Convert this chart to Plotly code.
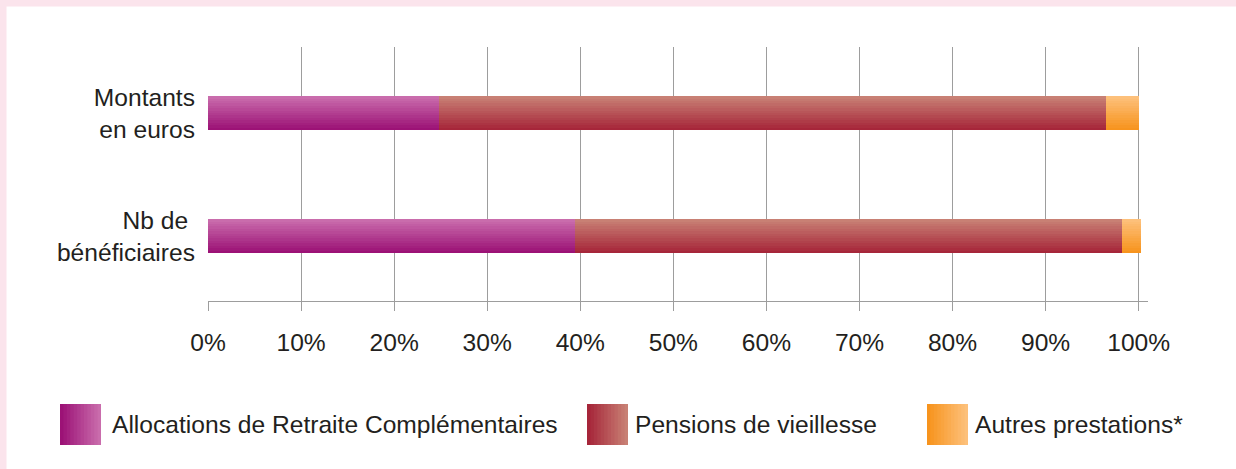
import plotly.graph_objects as go

# ---- data ----
categories = ["Nb de <br>bénéficiaires", "Montants<br>en euros"]
series_names = ["Allocations de Retraite Complémentaires", "Pensions de vieillesse", "Autres prestations*"]
arc_values = [39.4, 24.8]
pensions_values = [58.8, 71.7]
autres_values = [2.0, 3.5]
x_tick_values = [0, 10, 20, 30, 40, 50, 60, 70, 80, 90, 100]
x_tick_labels = ["0%", "10%", "20%", "30%", "40%", "50%", "60%", "70%", "80%", "90%", "100%"]

# ---- styles ----
W, H = 1236, 469
M_L, M_R, M_T, M_B = 208, 88, 47, 168
FONT = "Liberation Sans, Arial, sans-serif"
FS = 24.6
TXT = "#231f20"
GRID = "#9d9d9d"
PINK = "#fbe4ec"
# (dark/bottom, light/top)
grads = [((0x9c, 0x12, 0x76), (0xc9, 0x6c, 0xac)),
         ((0xa6, 0x26, 0x3a), (0xc8, 0x80, 0x74)),
         ((0xf7, 0x94, 0x1e), (0xfd, 0xc0, 0x7a))]
NSTRIP = 14
BAR_T = 0.276  # bar thickness in category units


def mix(c1, c2, t):
    return "rgb(%d,%d,%d)" % tuple(round(a + (b - a) * t) for a, b in zip(c1, c2))


fig = go.Figure()
values = [arc_values, pensions_values, autres_values]
bases = []
acc = [0.0] * len(categories)
for vals in values:
    bases.append(list(acc))
    acc = [a + v for a, v in zip(acc, vals)]

step = BAR_T / NSTRIP
for s, vals in enumerate(values):
    dark, light = grads[s]
    for i in range(NSTRIP):
        fig.add_trace(go.Bar(
            y=categories, x=vals, base=bases[s], orientation="h",
            offset=-BAR_T / 2 + i * step, width=BAR_T - i * step,
            marker=dict(color=mix(dark, light, i / (NSTRIP - 1)), line=dict(width=0)),
            name=series_names[s], showlegend=False, hoverinfo="skip",
        ))


def px_x(p):
    return (p - M_L) / (W - M_L - M_R)


def px_y(p):
    return (H - M_B - p) / (H - M_T - M_B)


shapes = []
# pink frame (left + top)
shapes.append(dict(type="rect", xref="paper", yref="paper", x0=px_x(0), x1=px_x(6.5),
                   y0=px_y(H), y1=px_y(0), fillcolor=PINK, line=dict(width=0), layer="below"))
shapes.append(dict(type="rect", xref="paper", yref="paper", x0=px_x(0), x1=px_x(W),
                   y0=px_y(6.5), y1=px_y(0), fillcolor=PINK, line=dict(width=0), layer="below"))

# legend (custom gradient swatches)
sw_left = [60, 587, 927]
txt_left = [110, 633, 973]
sw_size = 41
sw_top = 404
annotations = []
NS = 12
for s in range(3):
    dark, light = grads[s]
    sw = sw_size / NS
    for k in range(NS):
        x0 = sw_left[s] + k * sw
        shapes.append(dict(type="rect", xref="paper", yref="paper",
                           x0=px_x(x0), x1=px_x(sw_left[s] + sw_size),
                           y0=px_y(sw_top + sw_size), y1=px_y(sw_top),
                           fillcolor=mix(dark, light, k / (NS - 1)), line=dict(width=0)))
    annotations.append(dict(xref="paper", yref="paper", x=px_x(txt_left[s]), y=px_y(sw_top + sw_size / 2),
                            xanchor="left", yanchor="middle", showarrow=False, text=series_names[s],
                            font=dict(family=FONT, size=FS, color=TXT)))

fig.update_layout(
    width=W, height=H, autosize=False,
    margin=dict(l=M_L, r=M_R, t=M_T, b=M_B, pad=0),
    paper_bgcolor="white", plot_bgcolor="white",
    barmode="overlay", bargap=0,
    font=dict(family=FONT, size=FS, color=TXT),
    shapes=shapes, annotations=annotations,
    showlegend=False,
    xaxis=dict(range=[0, 101], tickvals=x_tick_values, ticktext=x_tick_labels,
               showgrid=True, gridcolor=GRID, gridwidth=1.4, zeroline=False,
               showline=True, linecolor=GRID, linewidth=1.4,
               ticks="outside", ticklen=9, tickcolor=GRID, tickwidth=1.4,
               ticklabelstandoff=10, fixedrange=True),
    yaxis=dict(type="category", categoryorder="array", categoryarray=categories,
               range=[-0.528, 1.537], showgrid=False, zeroline=False, showline=False,
               ticks="", ticklabelstandoff=12, fixedrange=True),
)

fig.write_html("out.html", config={"displayModeBar": False},
               post_script="document.body.style.margin='0';")
